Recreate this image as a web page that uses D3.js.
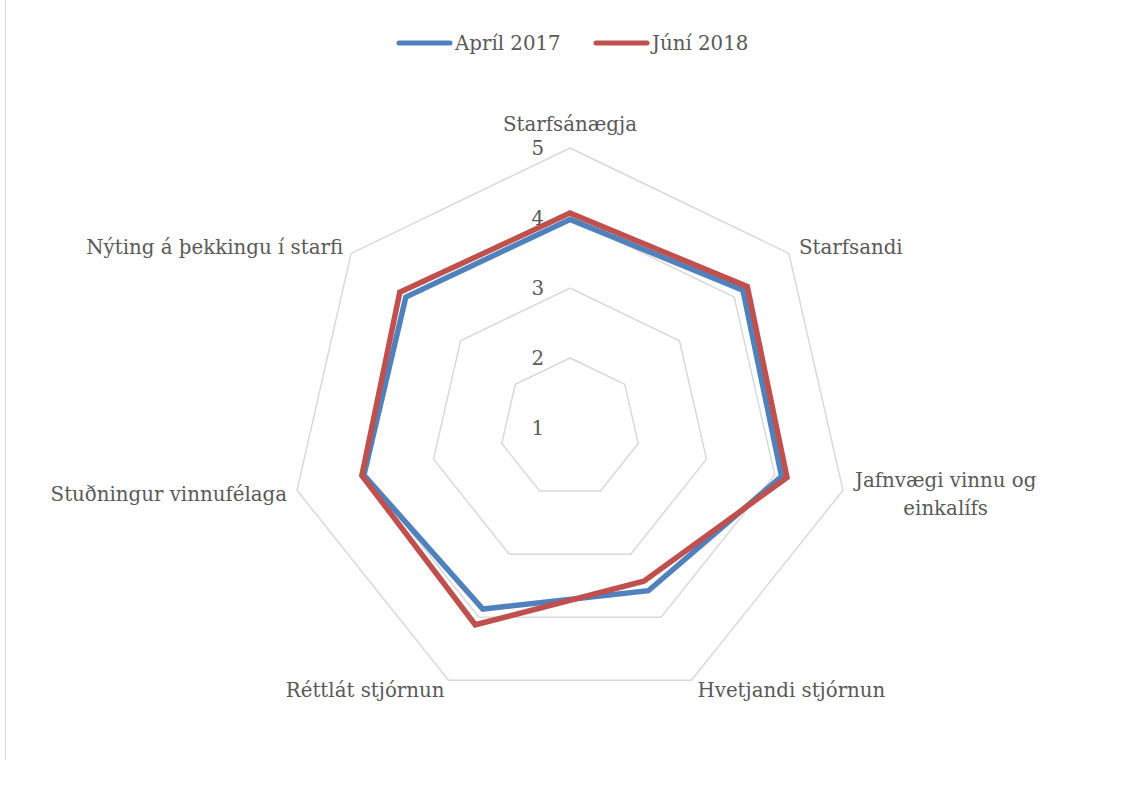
<!DOCTYPE html>
<html><head><meta charset="utf-8">
<script src="https://cdn.jsdelivr.net/npm/d3@7"></script>
<style>
html,body{margin:0;padding:0;background:#fff;}
svg{display:block;}
text{font-family:"DejaVu Serif",serif;fill:#595959;}
</style></head>
<body><svg id="chart" width="1131" height="787"></svg>
<script>
const categories = ["Starfsánægja","Starfsandi","Jafnvægi vinnu og einkalífs","Hvetjandi stjórnun","Réttlát stjórnun","Stuðningur vinnufélaga","Nýting á þekkingu í starfi"];
const seriesNames = ["Apríl 2017","Júní 2018"];
const april2017 = [3.98,4.16,4.10,3.58,3.87,4.02,4.00];
const juni2018 = [4.07,4.24,4.18,3.43,4.12,4.05,4.11];
const ticks = [1,2,3,4,5];
const colors = ["#4f81bd","#c0504d"];

const svg = d3.select("#chart");
const cx = 570, cy = 428, R = 280;
const fs = 19.8;
const r = d3.scaleLinear().domain([1,5]).range([0,R]);
const n = categories.length;
const ang = d3.scaleLinear().domain([0,n]).range([0,2*Math.PI]);
const pt = (i,v)=>[cx + r(v)*Math.sin(ang(i)), cy - r(v)*Math.cos(ang(i))];

// left border
svg.append("line").attr("x1",5.5).attr("x2",5.5).attr("y1",0).attr("y2",760)
  .attr("stroke","#d9d9d9").attr("stroke-width",1);

// grid rings
const line = d3.line().curve(d3.curveLinearClosed);
ticks.filter(t=>t>1).forEach(t=>{
  svg.append("path").attr("d", line(d3.range(n).map(i=>pt(i,t))))
    .attr("fill","none").attr("stroke","#d9d9d9").attr("stroke-width",1.5);
});

// tick labels
svg.selectAll("text.tick").data(ticks).enter().append("text")
  .attr("class","tick").attr("x",cx-26).attr("y",d=>cy-r(d))
  .attr("dy","0.35em").attr("text-anchor","end").style("font-size",fs+"px").text(d=>d);

// series
[april2017, juni2018].forEach((vals,k)=>{
  svg.append("path").attr("d", line(vals.map((v,i)=>pt(i,v))))
    .attr("fill","none").attr("stroke",colors[k]).attr("stroke-width",5.5)
    .attr("stroke-linejoin","miter");
});

// category labels
const offs = [[0,-24],[10,-6],[12,4],[6,10],[-4,10],[-10,4],[-8,-6]];
categories.forEach((c,i)=>{
  const [vx,vy] = pt(i,5);
  const s = Math.sin(ang(i));
  const anchor = Math.abs(s)<0.1 ? "middle" : (s>0 ? "start":"end");
  const x = vx+offs[i][0], y = vy+offs[i][1];
  if(i===2){
    const words = c.split(" ");
    const l1 = words.slice(0,3).join(" "), l2 = words.slice(3).join(" ");
    const t1 = svg.append("text").attr("x",x).attr("y",y-14).attr("dy","0.35em")
      .style("font-size",fs+"px").text(l1);
    const w = t1.node().getComputedTextLength();
    t1.attr("x",x+w/2).attr("text-anchor","middle");
    svg.append("text").attr("x",x+w/2).attr("y",y+14).attr("dy","0.35em")
      .attr("text-anchor","middle").style("font-size",fs+"px").text(l2);
  } else {
    svg.append("text").attr("x",x).attr("y",y).attr("dy","0.35em")
      .attr("text-anchor",anchor).style("font-size",fs+"px").text(c);
  }
});

// legend
const lx = [397,594];
seriesNames.forEach((s,k)=>{
  svg.append("line").attr("x1",lx[k]+2).attr("x2",lx[k]+53).attr("y1",43).attr("y2",43)
    .attr("stroke",colors[k]).attr("stroke-width",5).attr("stroke-linecap","round");
  svg.append("text").attr("x",lx[k]+58).attr("y",43).attr("dy","0.35em")
    .style("font-size",fs+"px").text(s);
});
</script></body></html>
